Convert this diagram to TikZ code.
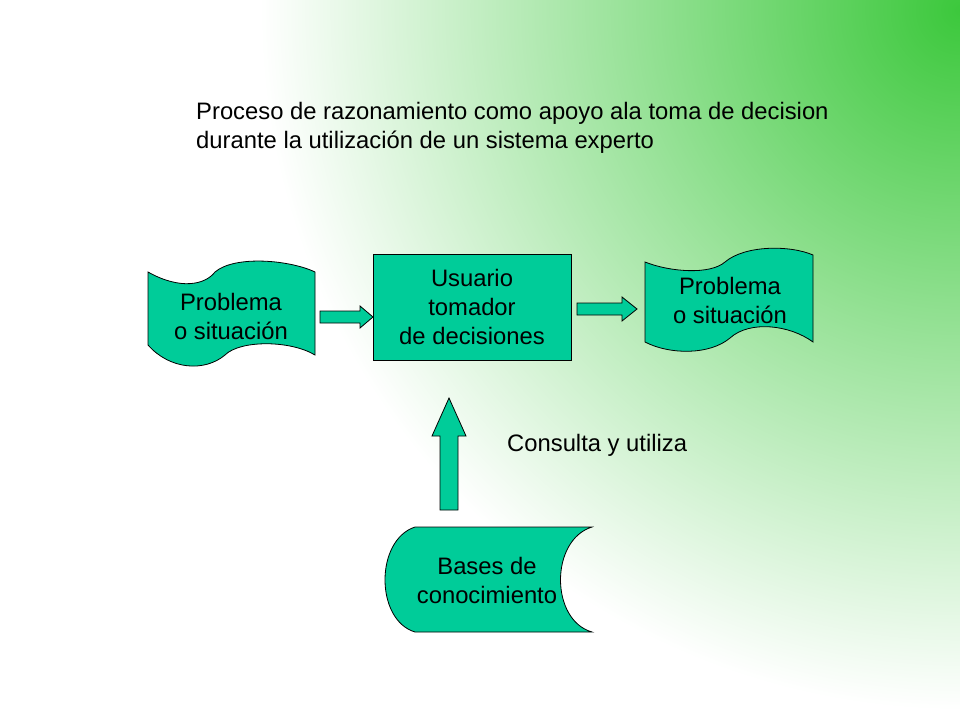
\documentclass[tikz,border=0pt]{standalone}
\usepackage{fontspec}
\setmainfont{Liberation Sans}
\definecolor{boxgreen}{RGB}{0,204,153}
\definecolor{bggreen}{RGB}{60,200,60}
\tikzset{
  shapefill/.style={fill=boxgreen, draw=black, line width=0.8pt},
  label/.style={align=center, font=\fontsize{23.8}{29}\selectfont}
}
\begin{document}
\begin{tikzpicture}[x=1pt, y=-1pt]
  % Background
  \useasboundingbox (0,0) rectangle (960,720);
  \begin{scope}
    \clip (0,0) rectangle (960,720);
    \fill[white] (0,0) rectangle (960,720);
    \shade[inner color=bggreen, outer color=white] (960,10) circle (700);
  \end{scope}

  % Title
  \node[label, align=left, anchor=north west, inner sep=0pt] (title) at (196,102)
    {Proceso de razonamiento como apoyo ala toma de decision\\durante la utilización de un sistema experto};

  % Left tape
  \draw[shapefill] (148,272) .. controls (180,290) and (205,285) .. (215,272)
    .. controls (235,255) and (290,260) .. (315,272) -- (315,355)
    .. controls (290,340) and (240,340) .. (225,355)
    .. controls (205,372) and (170,370) .. (148,345) -- cycle;
  \node[label] (prob1) at (231,316) {Problema\\o situación};

  % Decision box
  \draw[shapefill] (373,254) rectangle (571,360);
  \node[label] (user) at (472,307) {Usuario\\tomador\\de decisiones};

  % Right tape
  \draw[shapefill] (645,262) .. controls (670,272) and (710,275) .. (725,262)
    .. controls (745,245) and (790,245) .. (813,255) -- (813,342)
    .. controls (790,325) and (750,320) .. (730,338)
    .. controls (710,355) and (670,355) .. (645,342) -- cycle;
  \node[label] (prob2) at (730,300) {Problema\\o situación};

  % Knowledge base
  \draw[shapefill] (592,527) -- (415,527)
    .. controls (375,540) and (375,620) .. (415,632) -- (592,632)
    .. controls (550,620) and (550,540) .. (592,527) -- cycle;
  \node[label] (kb) at (487,580) {Bases de\\conocimiento};

  % Arrows
  \draw[shapefill] (320,311) -- (360,311) -- (360,306) -- (373,317) -- (360,328)
    -- (360,323) -- (320,323) -- cycle;
  \draw[shapefill] (577,303) -- (622,303) -- (622,297) -- (637,309) -- (622,321)
    -- (622,315) -- (577,315) -- cycle;
  \draw[shapefill] (440,510) -- (440,436) -- (432,436) -- (449,398) -- (466,436)
    -- (458,436) -- (458,510) -- cycle;

  \node[label, anchor=west, inner sep=0pt] (consult) at (507,445) {Consulta y utiliza};
\end{tikzpicture}
\end{document}
